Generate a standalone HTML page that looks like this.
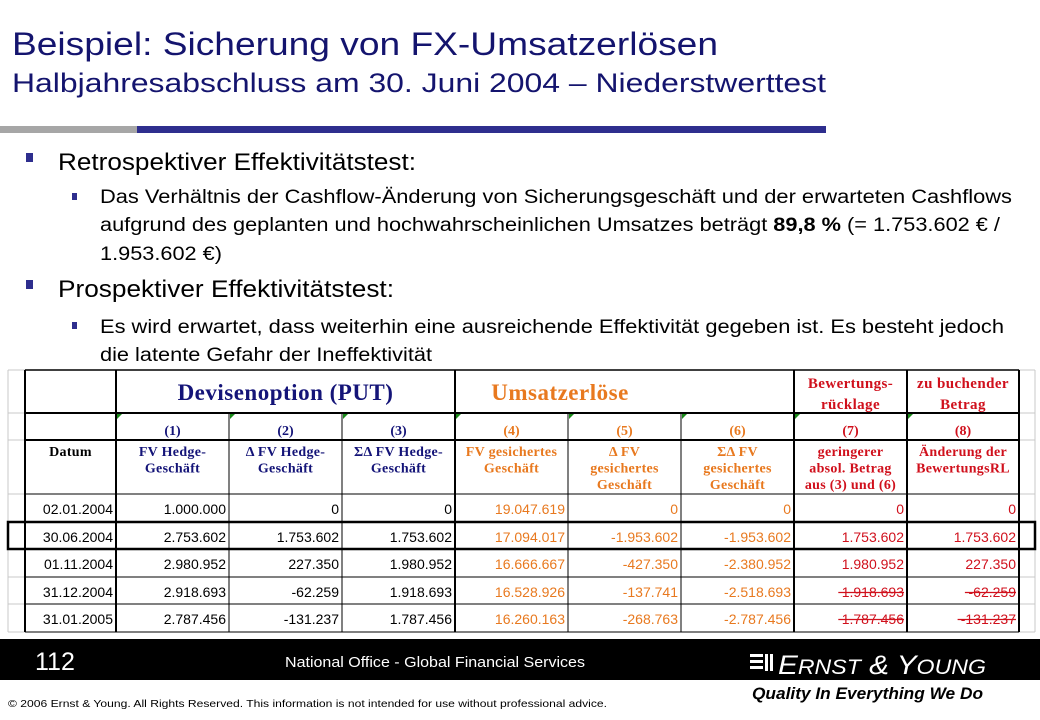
<!DOCTYPE html>
<html><head><meta charset="utf-8">
<style>
html,body{margin:0;padding:0;background:#fff;width:1040px;height:720px;overflow:hidden}
svg{display:block}
</style></head>
<body>
<svg id="s" width="1040" height="720" xmlns="http://www.w3.org/2000/svg" font-family="Liberation Sans, sans-serif">
<g>
<text x="12" y="55" font-size="32" fill="#14146e" textLength="706" lengthAdjust="spacingAndGlyphs">Beispiel:  Sicherung von FX-Umsatzerlösen</text>
<text x="12" y="92" font-size="27" fill="#14146e" textLength="814" lengthAdjust="spacingAndGlyphs">Halbjahresabschluss  am 30. Juni 2004 – Niederstwerttest</text>
</g>
<rect x="0" y="126" width="137" height="7" fill="#a6a6a6"/>
<rect x="137" y="126" width="689" height="7" fill="#2e2e8e"/>
<g fill="#000">
<rect x="26" y="153" width="7" height="9" fill="#2e2e8e"/>
<text x="58" y="170" font-size="24" textLength="358" lengthAdjust="spacingAndGlyphs">Retrospektiver Effektivitätstest:</text>
<rect x="72" y="193" width="5" height="7" fill="#2e2e8e"/>
<text x="100" y="203" font-size="19" textLength="912" lengthAdjust="spacingAndGlyphs">Das Verhältnis der Cashflow-Änderung von Sicherungsgeschäft und der erwarteten Cashflows</text>
<text x="100" y="231" font-size="19" textLength="900" lengthAdjust="spacingAndGlyphs">aufgrund des geplanten und hochwahrscheinlichen Umsatzes beträgt <tspan font-weight="bold">89,8 %</tspan> (= 1.753.602 € /</text>
<text x="100" y="260" font-size="19" textLength="122" lengthAdjust="spacingAndGlyphs">1.953.602 €)</text>
<rect x="26" y="280" width="7" height="9" fill="#2e2e8e"/>
<text x="58" y="297" font-size="24" textLength="336" lengthAdjust="spacingAndGlyphs">Prospektiver Effektivitätstest:</text>
<rect x="72" y="322" width="5" height="7" fill="#2e2e8e"/>
<text x="100" y="333" font-size="19" textLength="904" lengthAdjust="spacingAndGlyphs">Es wird erwartet, dass weiterhin eine ausreichende Effektivität gegeben ist. Es besteht jedoch</text>
<text x="100" y="361" font-size="19" textLength="332" lengthAdjust="spacingAndGlyphs">die latente Gefahr der Ineffektivität</text>
</g>
<g id="tbl"></g>
<rect x="0" y="639" width="1040" height="41" fill="#000"/>
<text x="35" y="670" font-size="25" fill="#fff">112</text>
<text x="435" y="667" font-size="15" fill="#fff" text-anchor="middle" textLength="300" lengthAdjust="spacingAndGlyphs">National Office - Global Financial Services</text>
<g>
<g fill="#fff"><rect x="750" y="654" width="13" height="3"/><rect x="750" y="660" width="13" height="3"/><rect x="750" y="666" width="13" height="3"/><rect x="765" y="654" width="3" height="17"/><rect x="770" y="654" width="3" height="17"/></g>
<text x="778" y="674" font-size="27" font-style="italic" fill="#fff" textLength="208" lengthAdjust="spacingAndGlyphs">E<tspan font-size="21">RNST</tspan> &amp; Y<tspan font-size="21">OUNG</tspan></text>
<text x="752" y="699" font-size="17" font-style="italic" font-weight="bold" fill="#000" textLength="231" lengthAdjust="spacingAndGlyphs">Quality In Everything We Do</text>
</g>
<text x="8" y="707" font-size="10.5" fill="#000" textLength="599" lengthAdjust="spacingAndGlyphs">© 2006 Ernst &amp; Young.  All Rights Reserved. This information is not intended for use without professional advice.</text>
</svg>
<script>
const dates=["02.01.2004","30.06.2004","01.11.2004","31.12.2004","31.01.2005"];
const col1=["1.000.000","2.753.602","2.980.952","2.918.693","2.787.456"];
const col2=["0","1.753.602","227.350","-62.259","-131.237"];
const col3=["0","1.753.602","1.980.952","1.918.693","1.787.456"];
const col4=["19.047.619","17.094.017","16.666.667","16.528.926","16.260.163"];
const col5=["0","-1.953.602","-427.350","-137.741","-268.763"];
const col6=["0","-1.953.602","-2.380.952","-2.518.693","-2.787.456"];
const col7=["0","1.753.602","1.980.952","1.918.693","1.787.456"];
const col8=["0","1.753.602","227.350","-62.259","-131.237"];
const struck=[false,false,false,true,true];

const NS="http://www.w3.org/2000/svg";
const g=document.getElementById('tbl');
const X=[25,116,229,342,455,568,681,794,907,1019];
const Y=[370,413,440,494,522,549,577,604,632];
const NAVY="#141478",OR="#e8791f",RED="#d0101c";
function el(t,a){const e=document.createElementNS(NS,t);for(const k in a)e.setAttribute(k,a[k]);g.appendChild(e);return e;}
function ln(x1,y1,x2,y2,c,w){return el('line',{x1,y1,x2,y2,stroke:c,'stroke-width':w});}
function tx(x,y,s,o){const e=el('text',Object.assign({x,y},o));e.textContent=s;return e;}
for(const y of Y){ln(8,y,25,y,'#c8c8c8',1);ln(1019,y,1035,y,'#c8c8c8',1);}
ln(8,370,8,632,'#c8c8c8',1);ln(1035,370,1035,632,'#c8c8c8',1);
for(let i=1;i<Y.length;i++){ln(25,Y[i],1019,Y[i],'#000',i==1||i==2?2:1);}
ln(25,370,1019,370,'#000',1.5);
for(let j=0;j<X.length;j++){
  const thick=(j==0||j==1||j==4||j==7||j==8||j==9);
  if(j==2||j==3||j==5||j==6) ln(X[j],413,X[j],632,'#000',1); else ln(X[j],370,X[j],632,'#000',thick?2:1);
}
el('rect',{x:8,y:Y[4],width:1027,height:Y[5]-Y[4],fill:'none',stroke:'#000','stroke-width':2.5});
const serif="Liberation Serif, serif";
let h=tx((X[1]+X[4])/2,400,"Devisenoption (PUT)",{'font-size':23,'font-weight':'bold','font-family':serif,fill:NAVY,'text-anchor':'middle','letter-spacing':'0.5'});

h=tx((X[4]+X[6])/2-8,400,"Umsatzerlöse",{'font-size':23,'font-weight':'bold','font-family':serif,fill:OR,'text-anchor':'middle','letter-spacing':'0.5'});

tx((X[7]+X[8])/2,388,"Bewertungs-",{'font-size':15,'font-weight':'bold','font-family':serif,fill:RED,'text-anchor':'middle','letter-spacing':'0.4'});
tx((X[7]+X[8])/2,409,"rücklage",{'font-size':15,'font-weight':'bold','font-family':serif,fill:RED,'text-anchor':'middle','letter-spacing':'0.4'});
tx((X[8]+X[9])/2,388,"zu buchender",{'font-size':15,'font-weight':'bold','font-family':serif,fill:RED,'text-anchor':'middle','letter-spacing':'0.4'});
tx((X[8]+X[9])/2,409,"Betrag",{'font-size':15,'font-weight':'bold','font-family':serif,fill:RED,'text-anchor':'middle','letter-spacing':'0.4'});
const colColors=[NAVY,NAVY,NAVY,OR,OR,OR,RED,RED];
const heads=[["FV Hedge-","Geschäft"],["Δ  FV Hedge-","Geschäft"],["ΣΔ  FV Hedge-","Geschäft"],["FV gesichertes","Geschäft"],["Δ  FV","gesichertes","Geschäft"],["ΣΔ  FV","gesichertes","Geschäft"],["geringerer","absol. Betrag","aus (3) und (6)"],["Änderung der","BewertungsRL"]];
for(let c=0;c<8;c++){
  const cx=(X[c+1]+X[c+2])/2;
  const n=tx(cx,435,"("+(c+1)+")",{'font-size':14,'font-weight':'bold','font-family':serif,fill:colColors[c],'text-anchor':'middle'});
  
  el('polygon',{points:`${X[c+1]+1},${414} ${X[c+1]+6},${414} ${X[c+1]+1},${419}`,fill:'#1a8a1a'});
  heads[c].forEach((s,k)=>{const t=tx(cx,456+k*16.5,s,{'font-size':14,'font-weight':'bold','font-family':serif,fill:colColors[c],'text-anchor':'middle','letter-spacing':'0.3'});
    });
}
tx((X[0]+X[1])/2,456,"Datum",{'font-size':14,'font-weight':'bold','font-family':serif,fill:'#000','text-anchor':'middle','letter-spacing':'0.3'});
const cols=[col1,col2,col3,col4,col5,col6,col7,col8];
const valColors=['#000','#000','#000',OR,OR,OR,RED,RED];
for(let r=0;r<dates.length;r++){
  const yb=Y[r+3]+20;
  const d=tx(X[1]-3,yb,dates[r],{'font-size':14,fill:'#000','text-anchor':'end'});
  
  for(let c=0;c<8;c++){
    const t=tx(X[c+2]-3,yb,cols[c][r],{'font-size':14,fill:valColors[c],'text-anchor':'end'});
    
    if(c>=6&&struck[r]){
      const w=cols[c][r].length*7.3;ln(X[c+2]-3-w,yb-4.5,X[c+2]-3,yb-4.5,RED,1.3);}
  }
}
</script>
</body></html>
